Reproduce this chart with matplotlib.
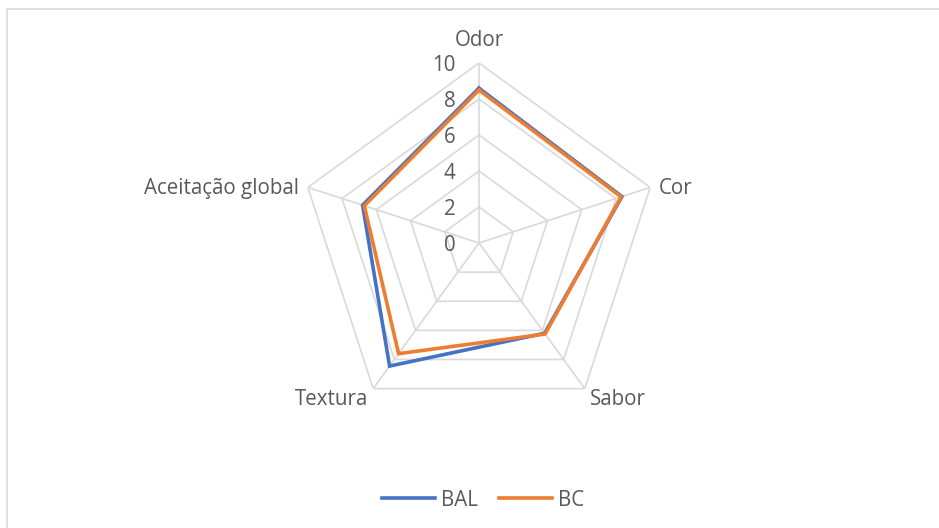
"""Radar chart: BAL vs BC sensory scores."""
import matplotlib
matplotlib.use("Agg")
import matplotlib.pyplot as plt
import numpy as np

# data
categories = ["Odor", "Cor", "Sabor", "Textura", "Aceitação global"]
bal = [8.6, 8.35, 6.2, 8.45, 6.8]
bc = [8.5, 8.3, 6.25, 7.6, 6.7]
r_ticks = [0, 2, 4, 6, 8, 10]

BLUE = "#4472C4"
ORANGE = "#ED7D31"
GRID = "#D9D9D9"
TXT = "#595959"
FS = 14.8

plt.rcParams["font.family"] = ["Open Sans", "DejaVu Sans"]

fig = plt.figure(figsize=(9.39, 5.28), dpi=100)

# chart border (only top/left visible in original)
fig.patches.append(plt.Rectangle((7 / 939, -0.1), 1.2, (528 - 9) / 528 + 0.1,
                                 transform=fig.transFigure, fill=False,
                                 edgecolor=GRID, lw=1.2))

ax = fig.add_axes([299 / 939, 105 / 528, 360 / 939, 360 / 528], projection="polar")
ax.set_theta_offset(np.pi / 2)
ax.set_theta_direction(-1)
ax.set_ylim(0, 10)
ax.grid(False)
ax.spines["polar"].set_visible(False)
ax.set_xticks([])
ax.set_yticks([])
ax.patch.set_alpha(0)

n = len(categories)
angles = np.linspace(0, 2 * np.pi, n, endpoint=False)
closed = np.append(angles, angles[0])

# pentagon rings and spokes
for t in r_ticks[1:]:
    ax.plot(closed, [t] * (n + 1), color=GRID, lw=1.2, zorder=1)
for a in angles:
    ax.plot([a, a], [0, r_ticks[-1]], color=GRID, lw=1.2, zorder=1)

# series
ax.plot(closed, bal + bal[:1], color=BLUE, lw=2.6, zorder=3, label="BAL",
        solid_joinstyle="miter")
ax.plot(closed, bc + bc[:1], color=ORANGE, lw=2.6, zorder=4, label="BC",
        solid_joinstyle="miter")

# radial tick labels
for t in r_ticks:
    ax.annotate(str(t), xy=(0, t), xytext=(-17, -1.5), textcoords="offset points",
                ha="right", va="center", fontsize=FS, color=TXT)

# category labels
offsets = [(0, 16, "center", "center"), (6, -1, "left", "center"),
           (4, -8, "left", "center"), (-4, -8, "right", "center"),
           (-6, -1, "right", "center")]
for a, lab, (dx, dy, ha, va) in zip(angles, categories, offsets):
    ax.annotate(lab, xy=(a, r_ticks[-1]), xytext=(dx, dy), textcoords="offset points",
                ha=ha, va=va, fontsize=FS, color=TXT)

leg = fig.legend(loc="center", bbox_to_anchor=(483 / 939, 28 / 528), ncol=2,
                 frameon=False, fontsize=FS, handlelength=2.6, columnspacing=1.0,
                 handletextpad=0.3)
for t in leg.get_texts():
    t.set_color(TXT)

fig.savefig("out.png", dpi=100)
